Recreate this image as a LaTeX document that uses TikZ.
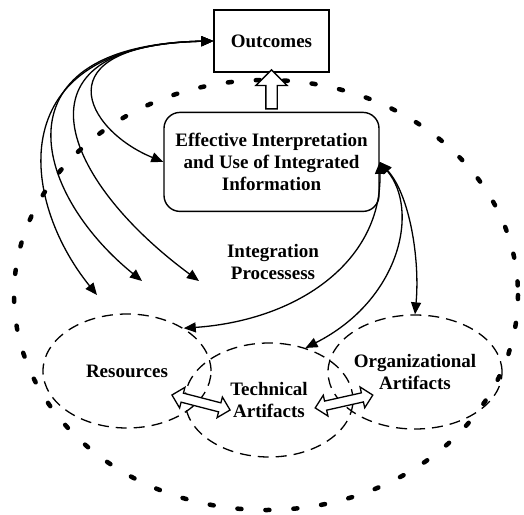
\documentclass[tikz,border=0pt]{standalone}
\usepackage{fontspec}
\setmainfont{Liberation Serif}
\usetikzlibrary{shapes.geometric, shapes.arrows, arrows.meta, calc, positioning}

\begin{document}
\begin{tikzpicture}[
  x=1pt, y=-1pt,
  font=\fontsize{19}{22}\selectfont\bfseries,
  box/.style={draw, line width=1.4pt, align=center, inner sep=0pt},
  blob/.style={ellipse, draw, line width=1.3pt, dash pattern=on 11pt off 7pt,
    minimum width=168pt, minimum height=114pt, inner sep=0pt, align=center},
  link/.style={line width=1.3pt,
    {Triangle[length=12pt,width=10pt]}-{Triangle[length=12pt,width=10pt]}},
  uparrow/.style={single arrow, draw, fill=white, line width=1.3pt,
    inner xsep=0pt, inner ysep=5pt, single arrow head extend=10pt},
  twoway/.style={double arrow, draw, fill=white, line width=1.3pt,
    inner xsep=0pt, inner ysep=4pt, double arrow head extend=6pt},
  thick]

  \useasboundingbox (0,0) rectangle (524,514);

  % outer boundary of the integration processes
  \draw[line width=4.5pt, line cap=round, dash pattern=on 4pt off 24pt]
    (266,295) ellipse [x radius=252, y radius=215];

  \node[box, minimum width=115pt, minimum height=62pt] (out) at (271.5,41) {Outcomes};
  \node[box, rounded corners=16pt, minimum width=215pt, minimum height=99pt,
    below=39pt of out] (eff) {Effective Interpretation\\and Use of Integrated\\Information};

  \node[align=center] (proc) at (273,262) {Integration\\Processess};

  \node[blob] (res) at (127,371) {Resources};
  \node[blob] (tech) at (269,400) {Technical\\Artifacts};
  \node[blob, minimum width=174pt] (org) at (415,372) {Organizational\\Artifacts};

  \coordinate (p1) at (97,295);
  \coordinate (p2) at (142,281);
  \coordinate (p3) at (199,281);

  \draw[link] (out.west) .. controls (0,45) and (20,200) .. (p1);
  \draw[link] (out.west) .. controls (-5,45) and (30,190) .. (p2);
  \draw[link] (out.west) .. controls (5,45) and (62,180) .. (p3);
  \draw[link] (out.west) .. controls (40,45) and (85,130) .. (eff.west);

  \draw[link] (eff.east) .. controls (382,260) and (300,320) .. (res.37);
  \draw[link] (eff.east) .. controls (420,210) and (400,300) .. (tech.55);
  \draw[link] (eff.east) .. controls (410,195) and (420,260) .. (org.north);

  \node[uparrow, rotate=90, minimum height=39pt] (up)
    at ($(eff.north)!.5!(out.south)$) {};

  \coordinate (rt1) at (172,395);
  \coordinate (rt2) at (230,410);
  \coordinate (to1) at (315,408);
  \coordinate (to2) at (373,395);
  \node[twoway, rotate=-14.5, minimum height=60pt] (rt) at ($(rt1)!.5!(rt2)$) {};
  \node[twoway, rotate=12.6, minimum height=59pt] (to) at ($(to1)!.5!(to2)$) {};
\end{tikzpicture}
\end{document}
